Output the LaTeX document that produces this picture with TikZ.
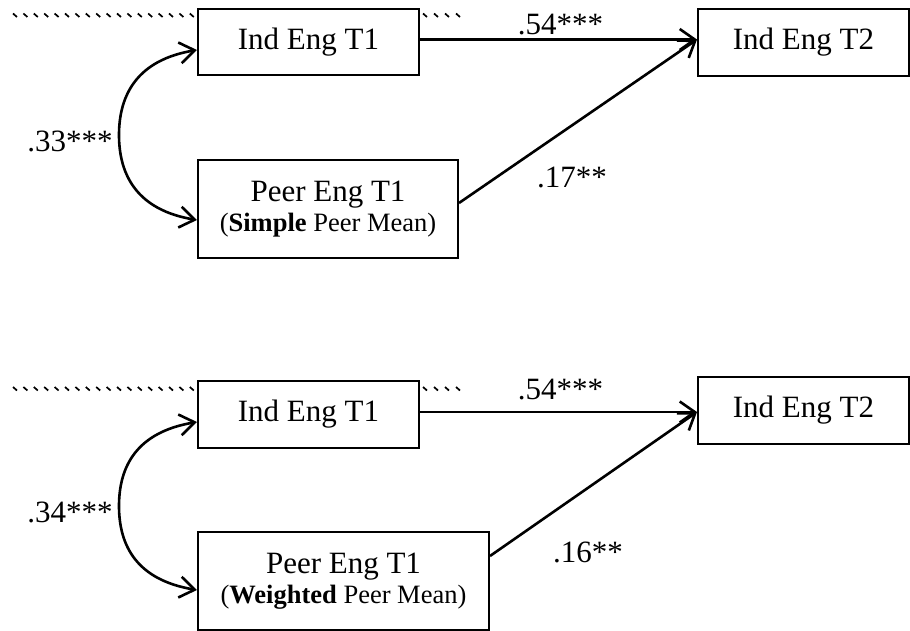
\documentclass[tikz,border=0pt]{standalone}
\usepackage{fontspec}
\setmainfont{Liberation Serif}
\usetikzlibrary{arrows.meta,calc}
\tikzset{
  boxnode/.style={draw, line width=2pt, inner sep=0pt, align=center,
    font=\fontsize{31}{30.5}\selectfont},
  pathlab/.style={inner sep=0pt, anchor=base, font=\fontsize{31}{36}\selectfont},
  onearrow/.style={line width=2.6pt, -{Straight Barb[length=15pt,width=21pt]}},
  dblarrow/.style={line width=2.6pt, {Straight Barb[length=15pt,width=21pt]}-{Straight Barb[length=15pt,width=21pt]}},
  hatchmark/.style={line width=1.7pt}
}
\newcommand{\sub}[1]{{\fontsize{26.5}{30.5}\selectfont #1}}
\begin{document}
\begin{tikzpicture}[x=1pt,y=-1pt]
\useasboundingbox (0,0) rectangle (910,631);
\fill[white] (0,0) rectangle (910,631);

% ---------- top panel ----------
\foreach \i in {0,...,17} { \draw[hatchmark] ({13+10.4*\i},13.5) -- ++(4,3.5); }
\foreach \i in {0,...,3} { \draw[hatchmark] ({423+11*\i},13.5) -- ++(4,3.5); }

\node[boxnode, minimum width=221pt, minimum height=66pt] (ie1a) at (308.5,42) {Ind Eng T1};
\node[boxnode, minimum width=211pt, minimum height=67pt] (ie2a) at (803.5,42.5) {Ind Eng T2};
\node[boxnode, minimum width=260pt, minimum height=98pt] (pea) at (328,209)
  {Peer Eng T1\\\sub{(\textbf{Simple} Peer Mean)}};

\coordinate (ta) at ([yshift=2.5pt]ie1a.east);
\coordinate (tae) at (ta -| ie2a.west);
\draw[onearrow] (ta) -- (tae);
\coordinate (pas) at ($(pea.north east)!0.44!(pea.south east)$);
\draw[onearrow] (pas) -- (tae);

\coordinate (s1) at ([yshift=-8pt]ie1a.west);
\coordinate (e1) at ([yshift=-11pt]pea.west);
\coordinate (m1) at ($(s1)!0.5!(e1)+(-78,0)$);
\draw[dblarrow] (s1) .. controls +(-60,10) and +(0,-40) .. (m1) .. controls +(0,40) and +(-60,-10) .. (e1);

\node[pathlab] (l54a) at (560.5,35) {.54***};
\node[pathlab] (l17) at (572,188) {.17**};
\node[pathlab] (l33) at (70,152) {.33***};

% ---------- bottom panel ----------
\foreach \i in {0,...,17} { \draw[hatchmark] ({13+10.4*\i},387) -- ++(4,3.5); }
\foreach \i in {0,...,3} { \draw[hatchmark] ({423+11*\i},387) -- ++(4,3.5); }

\node[boxnode, minimum width=221pt, minimum height=67pt] (ie1b) at (308.5,414.5) {Ind Eng T1};
\node[boxnode, minimum width=211pt, minimum height=67pt] (ie2b) at (803.5,410.5) {Ind Eng T2};
\node[boxnode, minimum width=291pt, minimum height=98pt] (peb) at (343.5,581)
  {Peer Eng T1\\\sub{(\textbf{Weighted} Peer Mean)}};

\coordinate (tb) at ([yshift=2.5pt]ie1b.east);
\coordinate (tbe) at (tb -| ie2b.west);
\draw[onearrow] (tb) -- (tbe);
\coordinate (pbs) at ($(peb.north east)!0.25!(peb.south east)$);
\draw[onearrow] (pbs) -- (tbe);

\coordinate (s2) at ([yshift=-7.5pt]ie1b.west);
\coordinate (e2) at ([yshift=-9pt]peb.west);
\coordinate (m2) at ($(s2)!0.5!(e2)+(-78,0)$);
\draw[dblarrow] (s2) .. controls +(-60,10) and +(0,-40) .. (m2) .. controls +(0,40) and +(-60,-10) .. (e2);

\node[pathlab] (l54b) at (560.5,399) {.54***};
\node[pathlab] (l16) at (588,562) {.16**};
\node[pathlab] (l34) at (70,522) {.34***};
\end{tikzpicture}
\end{document}
